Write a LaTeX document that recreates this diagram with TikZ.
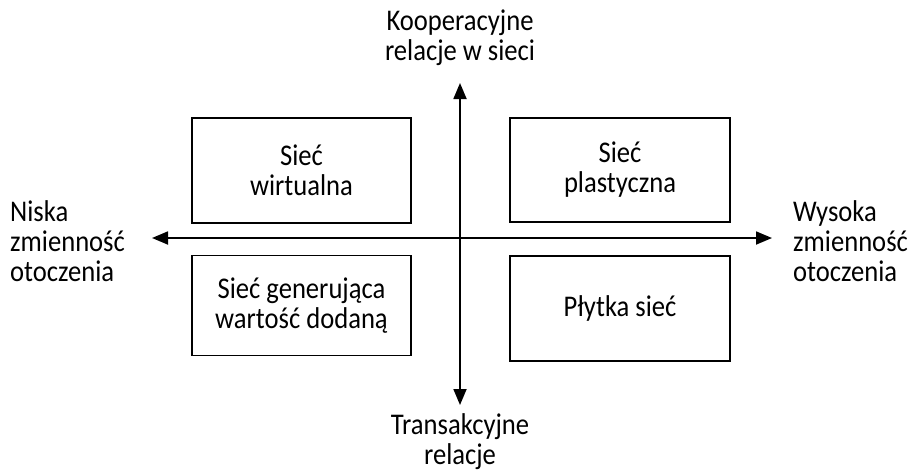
\documentclass[tikz,border=0pt]{standalone}
\usepackage{fontspec}
\usepackage{graphicx}
\setmainfont{Carlito}
\usetikzlibrary{arrows.meta}
% slightly tall glyphs, one line at a time
\newcommand\tline[1]{\scalebox{1}[1.13]{#1}}
\setlength{\lineskiplimit}{-100pt}
\begin{document}
\begin{tikzpicture}[x=1pt,y=-1pt,
  every node/.style={font=\fontsize{26.6}{30}\selectfont},
  quad/.style={draw,line width=1.6pt,inner sep=0pt,align=center},
  axis/.style={line width=1.8pt,-{Triangle[length=16pt,width=13pt]}},
  lbl/.style={align=center,inner sep=0pt},
  side/.style={align=left,inner sep=0pt,anchor=west}]
\useasboundingbox (0,0) rectangle (908,472);
% quadrant boxes
\node[quad,minimum width=219pt,minimum height=105pt] (vw) at (301.5,170.5) {\tline{Sieć}\\\tline{wirtualna}};
\node[quad,minimum width=220pt,minimum height=104pt] (pl) at (620,170) {\tline{Sieć}\\\tline{plastyczna}};
\node[quad,minimum width=219pt,minimum height=100pt] (gv) at (301.5,305.5) {\tline{Sieć generująca}\\\tline{wartość dodaną}};
\node[quad,minimum width=220pt,minimum height=105pt] (pt) at (620,308.5) {\tline{Płytka sieć}};
% axes
\coordinate (o) at (460,238);
\coordinate (top) at (460,83);
\coordinate (bot) at (460,405);
\coordinate (lft) at (152,238);
\coordinate (rgt) at (772,238);
\draw[axis] (o) -- (top);
\draw[axis] (o) -- (bot);
\draw[axis] (o) -- (lft);
\draw[axis] (o) -- (rgt);
% axis labels
\node[lbl] (kop) at (460,38) {\tline{Kooperacyjne}\\\tline{relacje w sieci}};
\node[lbl] (tr) at (460,442) {\tline{Transakcyjne}\\\tline{relacje}};
\node[side] (lo) at (10,241) {\tline{Niska}\\\tline{zmienność}\\\tline{otoczenia}};
\node[side] (hi) at (793,241) {\tline{Wysoka}\\\tline{zmienność}\\\tline{otoczenia}};
\end{tikzpicture}
\end{document}
